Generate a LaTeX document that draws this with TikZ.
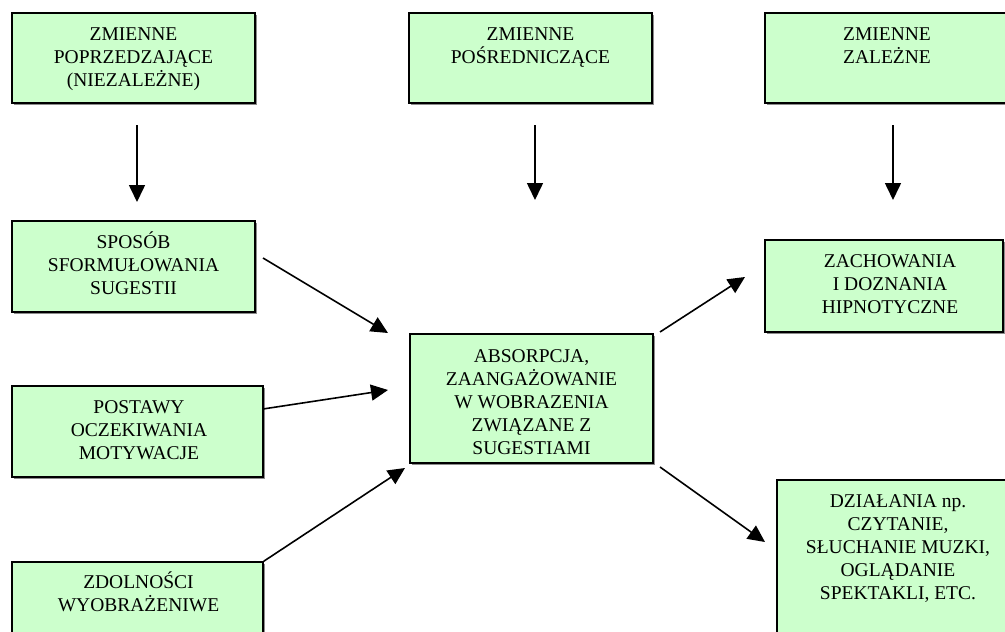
\documentclass[tikz,border=0pt]{standalone}
\usepackage{fontspec}
\setmainfont{Liberation Serif}
\usetikzlibrary{arrows.meta,calc,shadows}
\definecolor{boxgreen}{HTML}{CCFFCC}
\begin{document}
\begin{tikzpicture}[x=1pt,y=-1pt,
  box/.style={draw=black, line width=1.5pt, fill=boxgreen, rectangle, inner sep=0pt,
    drop shadow={shadow xshift=2pt, shadow yshift=-2pt, fill=black!45, opacity=1}},
  txt/.style={anchor=base, align=center, inner sep=0pt, font=\fontsize{19.5}{23}\selectfont},
  arr/.style={line width=1.6pt, -{Triangle[length=17pt,width=16pt]}}
]
\fill[white] (0,0) rectangle (1005,632);
\clip (0,0) rectangle (1005,632);
\useasboundingbox (0,0) rectangle (1005,632);

% header boxes
\node[box, minimum width=243pt, minimum height=90pt] (b1) at (133.5,58) {};
\node[txt] (t1) at (133.5,86) {ZMIENNE\\POPRZEDZAJĄCE\\(NIEZALEŻNE)};
\node[box, minimum width=243pt, minimum height=90pt] (b2) at (530.5,58) {};
\node[txt] (t2) at (530.5,63) {ZMIENNE\\POŚREDNICZĄCE};
\node[box, minimum width=250pt, minimum height=90pt] (b3) at (890,58) {};
\node[txt] (t3) at (887,63) {ZMIENNE\\ZALEŻNE};

% left column
\node[box, minimum width=243pt, minimum height=91pt] (b4) at (133.5,266.5) {};
\node[txt] (t4) at (133.5,294) {SPOSÓB\\SFORMUŁOWANIA\\SUGESTII};
\node[box, minimum width=251pt, minimum height=91pt] (b5) at (137.5,431.5) {};
\node[txt] (t5) at (139,459) {POSTAWY\\OCZEKIWANIA\\MOTYWACJE};
\node[box, minimum width=251pt, minimum height=100pt] (b6) at (137.5,612) {};
\node[txt] (t6) at (138.5,611) {ZDOLNOŚCI\\WYOBRAŻENIWE};

% middle
\node[box, minimum width=243pt, minimum height=129pt] (b7) at (531.5,398.5) {};
\node[txt] (t7) at (531.5,454) {ABSORPCJA,\\ZAANGAŻOWANIE\\W WOBRAZENIA\\ZWIĄZANE Z\\SUGESTIAMI};

% right column
\node[box, minimum width=238pt, minimum height=92pt] (b8) at (884,286) {};
\node[txt] (t8) at (890,313) {ZACHOWANIA\\I DOZNANIA\\HIPNOTYCZNE};
\node[box, minimum width=240pt, minimum height=180pt] (b9) at (897,570) {};
\node[txt] (t9) at (898,599) {DZIAŁANIA np.\\CZYTANIE,\\SŁUCHANIE MUZKI,\\OGLĄDANIE\\SPEKTAKLI, ETC.};

% vertical arrows
\coordinate (v1s) at (137,125); \coordinate (v1e) at (137,202);
\coordinate (v2s) at (535,125); \coordinate (v2e) at (535,200);
\coordinate (v3s) at (893,125); \coordinate (v3e) at (893,200);
\draw[arr] (v1s) -- (v1e);
\draw[arr] (v2s) -- (v2e);
\draw[arr] (v3s) -- (v3e);

% diagonal arrows
\coordinate (d1s) at (263,258); \coordinate (d1e) at (388,333);
\coordinate (d2s) at (263,409); \coordinate (d2e) at (388,390);
\coordinate (d4s) at (660,332); \coordinate (d4e) at (745,277);
\coordinate (d5s) at (660,467); \coordinate (d5e) at (765,542);
\coordinate (d3e) at (405,468);
\draw[arr] (d1s) -- (d1e);
\draw[arr] (d2s) -- (d2e);
\draw[arr] (b6.north east) -- (d3e);
\draw[arr] (d4s) -- (d4e);
\draw[arr] (d5s) -- (d5e);
\end{tikzpicture}
\end{document}
